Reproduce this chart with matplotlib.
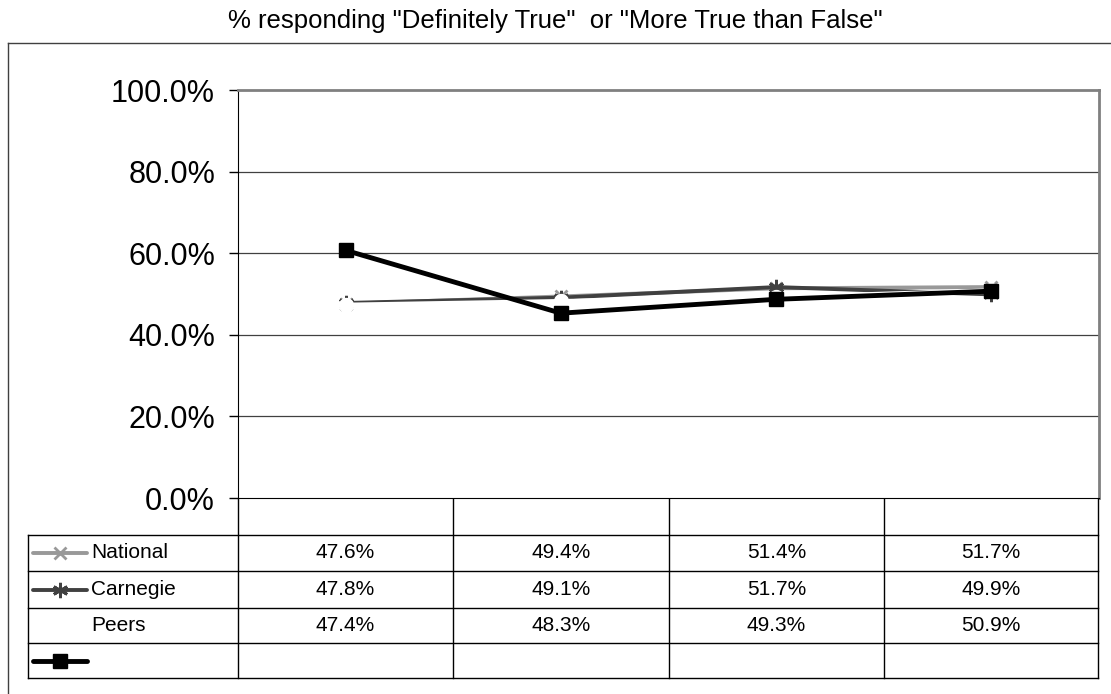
import numpy as np
import matplotlib
matplotlib.use("Agg")
import matplotlib.pyplot as plt

plt.rcParams['font.family'] = ['Liberation Sans', 'DejaVu Sans']

# data
categories = ["", "", "", ""]
national = [47.6, 49.4, 51.4, 51.7]
carnegie = [47.8, 49.1, 51.7, 49.9]
peers = [47.4, 48.3, 49.3, 50.9]
unnamed = [60.7, 45.3, 48.7, 50.7]   # black line with squares, no label in table
row_labels = ["National", "Carnegie", "Peers", ""]
title = '% responding "Definitely True"  or "More True than False"'

W, H = 1111, 694
fig = plt.figure(figsize=(W / 100, H / 100), dpi=100)


def box(l, t, r, b):
    return [l / W, 1 - b / H, (r - l) / W, (b - t) / H]


# outer chart border
fig.add_artist(plt.Line2D([8 / W, 8 / W], [1 - 43 / H, 0], color="#404040", lw=1))
fig.add_artist(plt.Line2D([8 / W, 1], [1 - 43 / H, 1 - 43 / H], color="#404040", lw=1))

fig.text(0.5, 1 - 21 / H, title, ha="center", va="center", fontsize=18.5)

# plot area
ax = fig.add_axes(box(238, 90, 1099, 498))
x = np.arange(len(categories))
ax.plot(x, national, color="#999999", lw=2.8, marker="x", ms=9, mew=2, zorder=3)
ax.plot(x, carnegie, color="#404040", lw=2.8, marker=(6, 2, 0), ms=11, mew=2, zorder=4)
ax.plot(x, peers, color="white", lw=2.8, marker="o", ms=10, mfc="white", mec="white", zorder=5)
ax.plot(x, unnamed, color="black", lw=3.5, marker="s", ms=10, zorder=6)

ax.set_xlim(-0.5, len(categories) - 0.5)
ax.set_ylim(0, 100)
ax.set_yticks(np.arange(0, 101, 20))
ax.set_yticklabels([f"{v:.1f}%" for v in np.arange(0, 101, 20)], fontsize=22)
ax.set_xticks([])
ax.tick_params(axis="y", direction="out", length=6.5, width=1, pad=10)
for v in range(20, 100, 20):
    ax.axhline(v, color="#404040", lw=0.9, zorder=1)
ax.spines["top"].set_color("#808080")
ax.spines["top"].set_linewidth(2)
ax.spines["right"].set_color("#808080")
ax.spines["right"].set_linewidth(2)
ax.spines["left"].set_color("black")
ax.spines["bottom"].set_color("black")

# data table under the plot
tab = fig.add_axes(box(0, 498, W, H))
tab.set_xlim(0, W)
tab.set_ylim(H, 498)
tab.axis("off")

col_x = [238, 453, 669, 884, 1098]
row_y = [535, 571, 608, 643, 678]
for cx in col_x:
    tab.plot([cx, cx], [498, row_y[-1]], color="black", lw=1)
tab.plot([28, 28], [row_y[0], row_y[-1]], color="black", lw=1)
for ry in row_y:
    tab.plot([28, 1098], [ry, ry], color="black", lw=1)

rows = [national, carnegie, peers, None]
styles = [
    dict(color="#999999", lw=2.8, marker="x", ms=9, mew=2),
    dict(color="#404040", lw=2.8, marker=(6, 2, 0), ms=11, mew=2),
    None,
    dict(color="black", lw=3.5, marker="s", ms=10),
]
for i, (label, vals, st) in enumerate(zip(row_labels, rows, styles)):
    yc = (row_y[i] + row_y[i + 1]) / 2
    if st is not None:
        tab.plot([33, 87], [yc, yc], color=st["color"], lw=st["lw"], solid_capstyle="round")
        tab.plot([60], [yc], ls="none", **{k: v for k, v in st.items() if k != "lw"})
    if label:
        tab.text(91, yc, label, ha="left", va="center", fontsize=15)
    if vals is not None:
        for j, v in enumerate(vals):
            xc = (col_x[j] + col_x[j + 1]) / 2
            tab.text(xc, yc, f"{v:.1f}%", ha="center", va="center", fontsize=15)

fig.savefig("out.png", dpi=100)
